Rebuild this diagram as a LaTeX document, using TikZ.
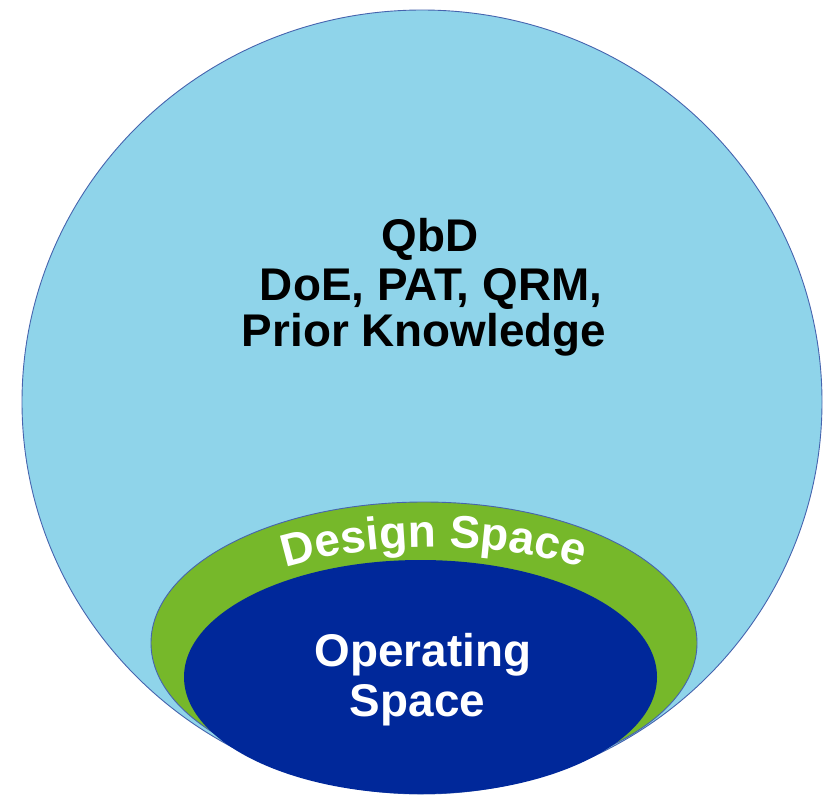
\documentclass[tikz,border=0pt]{standalone}
\usepackage{fontspec}
\setmainfont{Liberation Sans}
\usetikzlibrary{decorations.text}
\definecolor{skyfill}{HTML}{8FD4EA}
\definecolor{dsgreen}{HTML}{76B82A}
\definecolor{opblue}{HTML}{00289A}
\definecolor{rimblue}{HTML}{4664AE}
\newcommand{\diagfont}{\fontsize{46}{50}\selectfont\bfseries}
\begin{document}
\begin{tikzpicture}[x=1bp,y=-1bp,
  region/.style={draw=rimblue, line width=0.9bp},
  caption/.style={inner sep=0, anchor=base, font=\diagfont}]
\useasboundingbox (0,0) rectangle (832,804);
% outer QbD knowledge space
\filldraw[region, fill=skyfill] (422,402) ellipse [x radius=400, y radius=392];
% design space
\filldraw[region, fill=dsgreen] (424,643) ellipse [x radius=273, y radius=141];
% operating space
\fill[opblue] (420.5,677) ellipse [x radius=236.5, y radius=117];
% labels
\node[caption] (qbd) at (430,251) {QbD};
\node[caption] (tools) at (431,300.5) {DoE, PAT, QRM,};
\node[caption] (prior) at (424,346) {Prior Knowledge};
\node[caption, text=white] (oper) at (423,666) {Operating};
\node[caption, text=white] (space) at (417.5,716) {Space};
% curved design space label
\path[decorate, decoration={text along path, text align=center, text color=white,
  text={|\diagfont|Design Space}}]
  (189,647) arc[start angle=180, end angle=360, x radius=245, y radius=100];
\end{tikzpicture}
\end{document}
